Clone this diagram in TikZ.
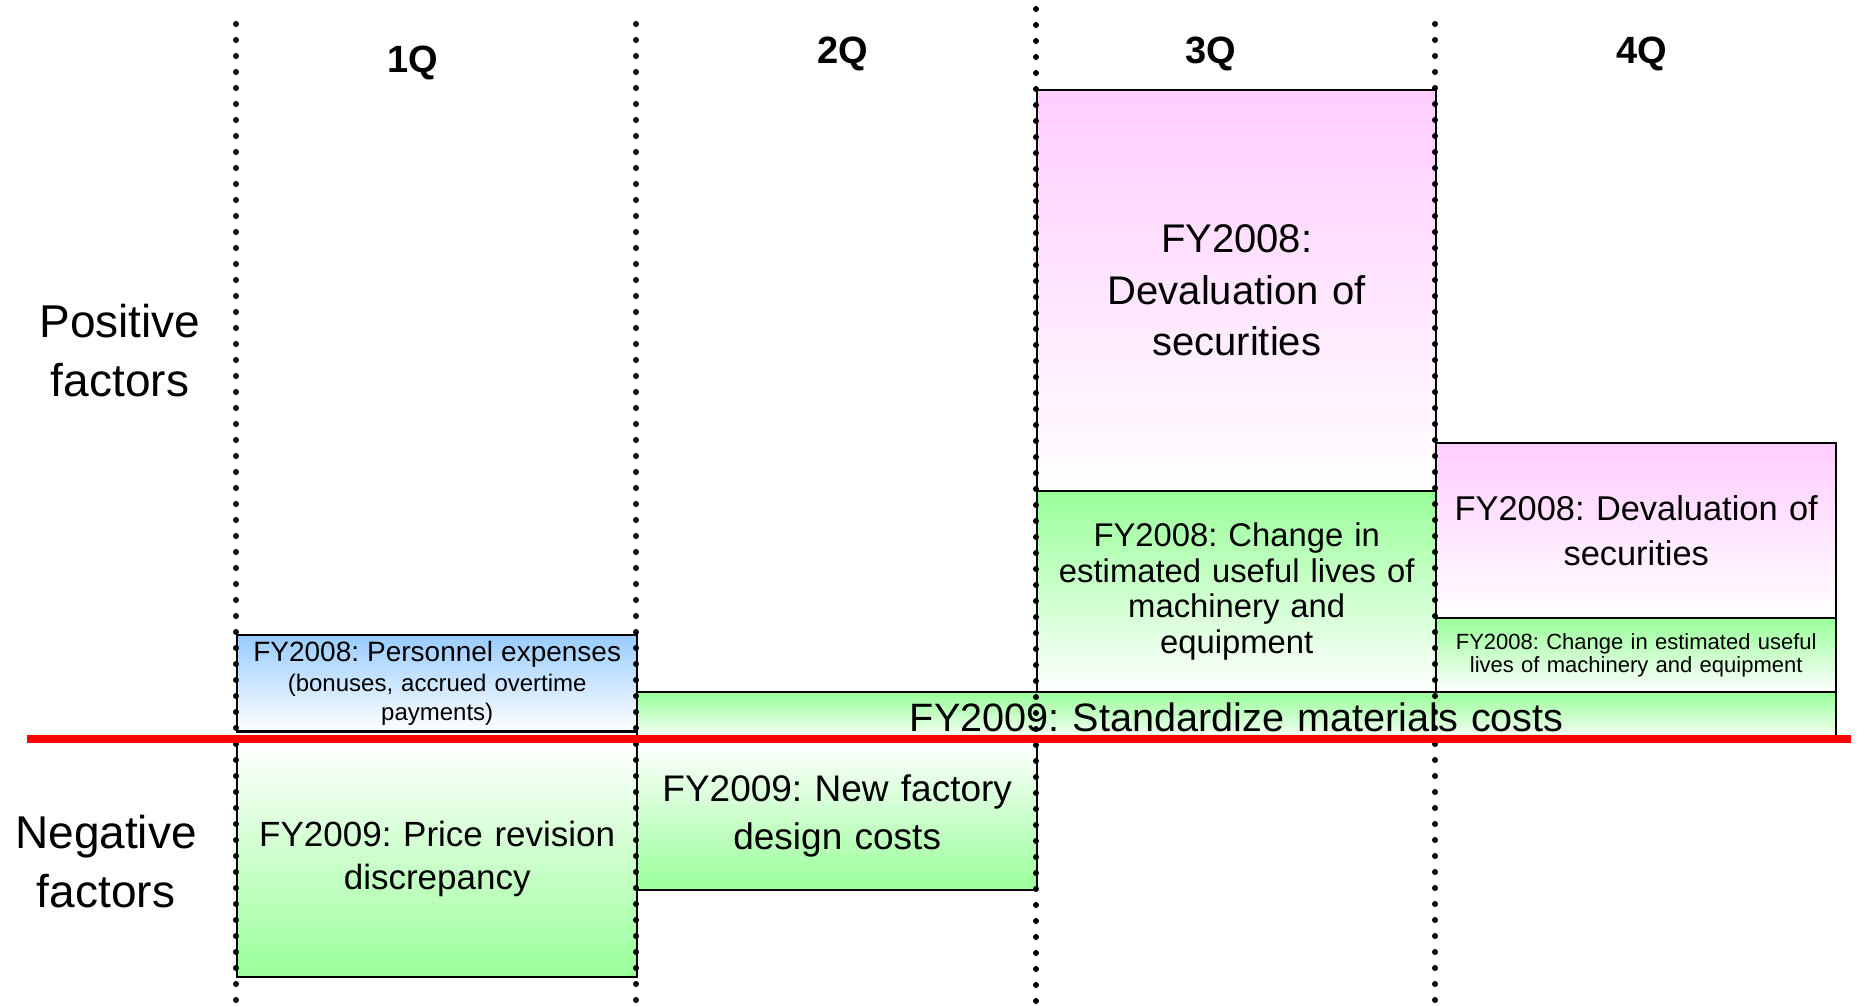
\documentclass[tikz,border=0pt]{standalone}
\usepackage{fontspec}
\setmainfont{Liberation Sans}
\frenchspacing
\usetikzlibrary{shadings}
\definecolor{pinkA}{HTML}{FFCCFF}
\definecolor{greenA}{HTML}{99FF99}
\definecolor{blueA}{HTML}{99CCFF}
\definecolor{axisred}{HTML}{FF0000}
\tikzset{
  box/.style={draw=black, line width=1.2pt, inner sep=3pt, anchor=north west, align=center},
  side/.style={inner sep=0pt, align=center, text width=110pt,
    font=\fontsize{23}{29.5}\selectfont},
  quarter/.style={inner sep=0pt, font=\fontsize{19}{22}\bfseries\selectfont},
  divider/.style={line width=3pt, dash pattern=on 0pt off 8pt, line cap=round},
  axisline/.style={draw=axisred, line width=4pt}
}
\begin{document}
\begin{tikzpicture}[x=0.5pt,y=-0.5pt]
\useasboundingbox (0,0) rectangle (1858,1006);

% quarter headings
\node[quarter] (q1) at (413,63) {1Q};
\node[quarter] (q2) at (843,54) {2Q};
\node[quarter] (q3) at (1211,54) {3Q};
\node[quarter] (q4) at (1642,54) {4Q};

% row headings
\node[side] (pos) at (120,351) {Positive\\factors};
\node[side] (neg) at (106,862) {Negative\\factors};

% 1Q
\node[box, top color=blueA, bottom color=white, minimum width=200pt, minimum height=48pt,
  text width=194pt, font=\fontsize{12}{14.8}\selectfont] (pers) at (236,634)
  {\fontsize{14}{14.8}\selectfont FY2008: Personnel expenses\\
   \fontsize{12}{14.8}\selectfont (bonuses, accrued overtime\\payments)};
\node[box, top color=white, bottom color=greenA, minimum width=200pt, minimum height=118pt,
  text width=194pt, font=\fontsize{17.5}{21.5}\selectfont] (price) at (236,740)
  {FY2009: Price revision\\discrepancy};

% 2Q
\node[box, top color=white, bottom color=greenA, minimum width=200pt, minimum height=74.5pt,
  text width=194pt, font=\fontsize{18.5}{24}\selectfont] (factory) at (636,740)
  {FY2009: New factory\\design costs};

% 2Q-4Q band
\node[box, top color=greenA, bottom color=white, minimum width=599.5pt, minimum height=24.5pt,
  text width=590pt, text height=15pt, text depth=0pt,
  font=\fontsize{19.8}{22}\selectfont] (stdmat) at (636,691)
  {FY2009: Standardize materials costs};

% 3Q
\node[box, top color=pinkA, bottom color=white, minimum width=199.5pt, minimum height=200.5pt,
  text width=192pt, font=\fontsize{20}{25.75}\selectfont] (dev3) at (1036,89)
  {FY2008:\\Devaluation of\\securities};
\node[box, top color=greenA, bottom color=white, minimum width=199.5pt, minimum height=100.5pt,
  text width=192pt, font=\fontsize{16.4}{17.75}\selectfont] (life3) at (1036,490)
  {FY2008: Change in\\estimated useful lives of\\machinery and\\equipment};

% 4Q
\node[box, top color=pinkA, bottom color=white, minimum width=200pt, minimum height=87.5pt,
  text width=194pt, font=\fontsize{17.2}{22.5}\selectfont] (dev4) at (1435,442)
  {FY2008: Devaluation of\\securities};
\node[box, top color=greenA, bottom color=white, minimum width=200pt, minimum height=37pt,
  text width=194pt, font=\fontsize{11}{11.5}\selectfont] (life4) at (1435,617)
  {FY2008: Change in estimated useful\\lives of machinery and equipment};

% quarter dividers
\coordinate (d1t) at (236,24);  \coordinate (d1b) at (236,1006);
\coordinate (d2t) at (636,24);  \coordinate (d2b) at (636,1006);
\coordinate (d3t) at (1036,9);  \coordinate (d3b) at (1036,1006);
\coordinate (d4t) at (1435,24); \coordinate (d4b) at (1435,1006);
\draw[divider] (d1t) -- (d1b);
\draw[divider] (d2t) -- (d2b);
\draw[divider] (d3t) -- (d3b);
\draw[divider] (d4t) -- (d4b);

% zero line between positive and negative factors
\coordinate (axL) at (27,739);
\coordinate (axR) at (1851,739);
\draw[axisline] (axL) -- (axR);
\end{tikzpicture}
\end{document}
